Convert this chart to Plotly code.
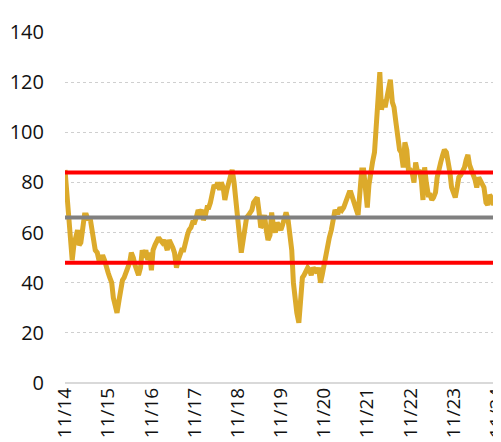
import pandas as pd
import plotly.graph_objects as go

# Semi-monthly readings, Nov 2014 .. Nov 2024
values = [
    # Nov 2014 - Oct 2015
    85, 77, 65, 59, 49, 55, 60, 61, 55, 56, 62, 67, 67, 65, 66, 62, 57, 53, 52, 49, 48, 51, 49, 46,
    # Nov 2015 - Oct 2016
    44, 42, 40, 34, 31, 28, 33, 38, 41, 42, 44, 46, 48, 52, 50, 47, 45, 43, 46, 53, 50, 53, 49, 52,
    # Nov 2016 - Oct 2017
    45, 53, 55, 57, 58, 57, 56, 57, 55, 53, 57, 56, 54, 52, 46, 49, 51, 53, 53, 55, 59, 61, 62, 64,
    # Nov 2017 - Oct 2018
    64, 66, 69, 68, 69, 65, 67, 70, 70, 72, 75, 79, 78, 80, 77, 80, 78, 73, 77, 80, 83, 85, 80, 72,
    # Nov 2018 - Oct 2019
    64, 59, 52, 56, 62, 66, 67, 68, 69, 72, 73, 74, 68, 62, 63, 67, 61, 57, 59, 68, 62, 60, 64, 62,
    # Nov 2019 - Oct 2020
    61, 63, 67, 68, 65, 58, 53, 40, 33, 28, 24, 34, 42, 43, 45, 46, 45, 43, 46, 45, 44, 46, 40, 43,
    # Nov 2020 - Oct 2021
    48, 52, 55, 58, 61, 65, 69, 68, 68, 70, 69, 70, 72, 74, 76, 76, 73, 71, 69, 67, 79, 85, 85, 77,
    # Nov 2021 - Oct 2022
    70, 79, 86, 88, 92, 101, 117, 124, 109, 113, 110, 113, 118, 121, 112, 110, 104, 98, 93, 92, 86, 96, 93, 85,
    # Nov 2022 - Oct 2023
    85, 84, 80, 88, 84, 85, 81, 73, 86, 80, 75, 75, 73, 74, 76, 82, 86, 88, 91, 93, 92, 89, 84, 78,
    # Nov 2023 - Nov 2024
    75, 74, 78, 82, 83, 84, 86, 89, 91, 87, 84, 83, 81, 78, 82, 81, 79, 78, 72, 71, 75, 74, 71, 73, 74,
]
dates = pd.date_range("2014-11-01", periods=len(values), freq="SMS")

upper_band = 84
average = 66
lower_band = 48

tick_dates = pd.date_range("2014-11-01", "2024-11-01", freq="12MS")
tick_labels = [d.strftime("%m/%y") for d in tick_dates]

fig = go.Figure()
fig.add_trace(go.Scatter(x=dates, y=values, mode="lines",
                         line=dict(color="#DCAA2B", width=5), hoverinfo="skip"))

for lvl, col in [(upper_band, "#FF0000"), (average, "#808080"), (lower_band, "#FF0000")]:
    fig.add_hline(y=lvl, line=dict(color=col, width=4), layer="above")

# page body has an 8px default margin, so the figure is 8px smaller
fig.update_layout(
    width=493, height=434,
    margin=dict(l=57, r=0, t=24, b=59),
    paper_bgcolor="white", plot_bgcolor="white",
    showlegend=False,
    font=dict(family="Open Sans", size=20, color="#111111"),
)
fig.update_xaxes(
    type="date",
    range=["2014-11-01", "2024-12-06"],
    tickvals=tick_dates, ticktext=tick_labels,
    tickangle=-90, showgrid=False, zeroline=False, showline=False,
    automargin=False, ticks="", tickfont=dict(size=19),
    ticklabeloverflow="allow",
)
fig.update_yaxes(
    range=[0, 140], dtick=20, tick0=0,
    showgrid=True, gridcolor="#cfcfcf", griddash="dot", gridwidth=1,
    zeroline=True, zerolinecolor="#d9d9d9", zerolinewidth=2,
    showline=False, ticks="", automargin=False, ticklabelstandoff=20,
)
fig.write_html("out.html")
